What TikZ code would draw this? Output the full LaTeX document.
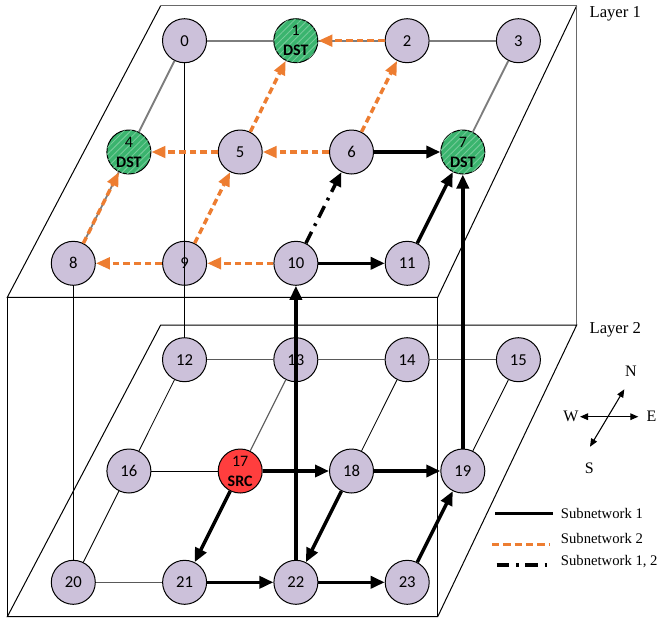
\documentclass[tikz,border=0pt]{standalone}
\usepackage{fontspec}
\setmainfont{Liberation Serif}
\newfontfamily\nodefont{Carlito}
\usetikzlibrary{arrows.meta,patterns.meta}

\definecolor{lav}{RGB}{204,193,218}
\definecolor{dstgreen}{RGB}{58,180,110}
\definecolor{srcred}{RGB}{255,62,62}
\definecolor{orng}{RGB}{237,125,49}
\definecolor{edgegray}{RGB}{125,125,125}
\definecolor{framegray}{RGB}{105,105,105}

\begin{document}
\begin{tikzpicture}[x=0.75pt,y=-0.75pt,
  vtx/.style={circle, draw=black, line width=0.75pt, fill=lav, minimum size=33pt,
    inner sep=0pt, font=\nodefont\fontsize{12.5}{12.5}\selectfont},
  dst/.style={vtx, fill=dstgreen, align=center,
    postaction={pattern={Lines[angle=45,distance=3.5pt,line width=0.7pt]},
      pattern color=dstgreen!70!white},
    font=\nodefont\fontsize{12}{15}\selectfont},
  srcnode/.style={vtx, fill=srcred, align=center,
    font=\nodefont\fontsize{12}{15}\selectfont},
  frame/.style={line width=0.75pt, black},
  backframe/.style={line width=1.1pt, framegray},
  gline/.style={line width=1.4pt, edgegray},
  tline/.style={line width=0.65pt, black},
  tgline/.style={line width=0.8pt, black!65},
  sub1/.style={line width=2.6pt, black, -{Triangle[length=10.5pt,width=9pt]}},
  sub2/.style={line width=2.6pt, orng, dash pattern=on 5pt off 3pt,
    -{Triangle[length=10.5pt,width=8.5pt]}},
  sub12/.style={line width=2.6pt, black, dash pattern=on 9.5pt off 5pt on 2pt off 5pt,
    -{Triangle[length=10.5pt,width=9pt]}},
  lbl/.style={inner sep=0pt, anchor=west, font=\fontsize{12.5}{12.5}\selectfont},
  legtxt/.style={inner sep=0pt, anchor=west, font=\fontsize{11}{11}\selectfont},
  cmp/.style={inner sep=0pt, font=\fontsize{12}{12}\selectfont},
  cmparrow/.style={line width=0.8pt, {Triangle[length=6pt,width=5pt]}-{Triangle[length=6pt,width=5pt]}}
]
\useasboundingbox (0,0) rectangle (663,618);

% ---- the two layer planes and the box joining them ----
\draw[frame] (160.7,5.7) -- (7.3,297.3) -- (437.7,297.3) -- (576.7,5.7);
\draw[backframe] (160.7,5.7) -- (576.7,5.7) -- (576.7,325);
\draw[frame] (160.7,325) -- (576.7,325) -- (437.7,616.7) -- (7.3,616.7) -- cycle;
\draw[frame] (7.3,297.3) -- (7.3,616.7);
\draw[frame] (437.7,297.3) -- (437.7,616.7);

% ---- nodes of layer 1 ----
\node[vtx] (n0) at (184.5,40.7) {0};
\node[dst] (n1) at (295.8,40.7) {1\\\textbf{DST}};
\node[vtx] (n2) at (407.1,40.7) {2};
\node[vtx] (n3) at (518.4,40.7) {3};
\node[dst] (n4) at (128.9,152.0) {4\\\textbf{DST}};
\node[vtx] (n5) at (240.2,152.0) {5};
\node[vtx] (n6) at (351.5,152.0) {6};
\node[dst] (n7) at (462.8,152.0) {7\\\textbf{DST}};
\node[vtx] (n8) at (73.3,263.3) {8};
\node[vtx] (n9) at (184.6,263.3) {9};
\node[vtx] (n10) at (295.9,263.3) {10};
\node[vtx] (n11) at (407.2,263.3) {11};

% ---- nodes of layer 2 ----
\node[vtx] (n12) at (184.5,359.7) {12};
\node[vtx] (n13) at (295.8,359.7) {13};
\node[vtx] (n14) at (407.1,359.7) {14};
\node[vtx] (n15) at (518.4,359.7) {15};
\node[vtx] (n16) at (128.9,471.0) {16};
\node[srcnode] (n17) at (240.2,471.0) {17\\\textbf{SRC}};
\node[vtx] (n18) at (351.5,471.0) {18};
\node[vtx] (n19) at (462.8,471.0) {19};
\node[vtx] (n20) at (73.3,582.3) {20};
\node[vtx] (n21) at (184.6,582.3) {21};
\node[vtx] (n22) at (295.9,582.3) {22};
\node[vtx] (n23) at (407.2,582.3) {23};

% ---- plain links, layer 1 ----
\draw[gline] (n0) -- (n1);
\draw[gline] (n1) -- (n2);
\draw[gline] (n2) -- (n3);
\draw[gline] (n0) -- (n4);
\draw[gline] (n3) -- (n7);
\draw[gline] (n4) -- (n8);

% ---- plain links, layer 2 ----
\draw[tgline] (n12) -- (n13);
\draw[tgline] (n13) -- (n14);
\draw[tgline] (n14) -- (n15);
\draw[tgline] (n20) -- (n21);
\draw[tgline] (n13) -- (n17);
\draw[tline] (n16) -- (n17);
\draw[tline] (n12) -- (n16);
\draw[tline] (n16) -- (n20);
\draw[tline] (n14) -- (n18);
\draw[tline] (n15) -- (n19);

% ---- links between the layers ----
\draw[tline] (n0) -- (n12);
\draw[tline] (n8) -- (n20);

% ---- subnetwork 2 ----
\draw[sub2] (n2) -- (n1);
\draw[sub2] (n5) -- (n1);
\draw[sub2] (n6) -- (n2);
\draw[sub2] (n5) -- (n4);
\draw[sub2] (n6) -- (n5);
\draw[sub2] (n8) -- (n4);
\draw[sub2] (n9) -- (n5);
\draw[sub2] (n9) -- (n8);
\draw[sub2] (n10) -- (n9);

% ---- shared by subnetworks 1 and 2 ----
\draw[sub12] (n10) -- (n6);

% ---- subnetwork 1 ----
\draw[sub1] (n6) -- (n7);
\draw[sub1] (n10) -- (n11);
\draw[sub1] (n11) -- (n7);
\draw[sub1] (n17) -- (n18);
\draw[sub1] (n18) -- (n19);
\draw[sub1] (n17) -- (n21);
\draw[sub1] (n18) -- (n22);
\draw[sub1] (n21) -- (n22);
\draw[sub1] (n22) -- (n23);
\draw[sub1] (n23) -- (n19);
\draw[sub1] (n22) -- (n10);
\draw[sub1] (n19) -- (n7);

% ---- layer captions ----
\node[lbl] (lay1) at (589.3,13.8) {Layer 1};
\node[lbl] (lay2) at (589.3,329.5) {Layer 2};

% ---- compass ----
\node[cmp] (cN) at (631,371.7) {N};
\node[cmp] (cS) at (589.3,468.3) {S};
\node[cmp] (cW) at (571,416.7) {W};
\node[cmp] (cE) at (651.5,416.7) {E};
\coordinate (cwe1) at (580,416.7);
\coordinate (cwe2) at (638.3,416.7);
\coordinate (cns1) at (624.3,389.3);
\coordinate (cns2) at (590,446.7);
\draw[cmparrow] (cwe1) -- (cwe2);
\draw[cmparrow] (cns1) -- (cns2);

% ---- legend ----
\coordinate (l1a) at (495,513.3);   \coordinate (l1b) at (552.7,513.3);
\coordinate (l2a) at (492,544.3);   \coordinate (l2b) at (550,544.3);
\coordinate (l3a) at (496.7,565);   \coordinate (l3b) at (552,565);
\draw[line width=2.6pt] (l1a) -- (l1b);
\draw[line width=2.6pt, orng, dash pattern=on 5.5pt off 3pt] (l2a) -- (l2b);
\draw[line width=2.6pt, dash pattern=on 9.5pt off 5pt on 2pt off 5pt] (l3a) -- (l3b);
\node[legtxt] (t1) at (560.7,513.3) {Subnetwork 1};
\node[legtxt] (t2) at (560.7,538.3) {Subnetwork 2};
\node[legtxt] (t3) at (560.7,561.7) {Subnetwork 1, 2};
\end{tikzpicture}
\end{document}
